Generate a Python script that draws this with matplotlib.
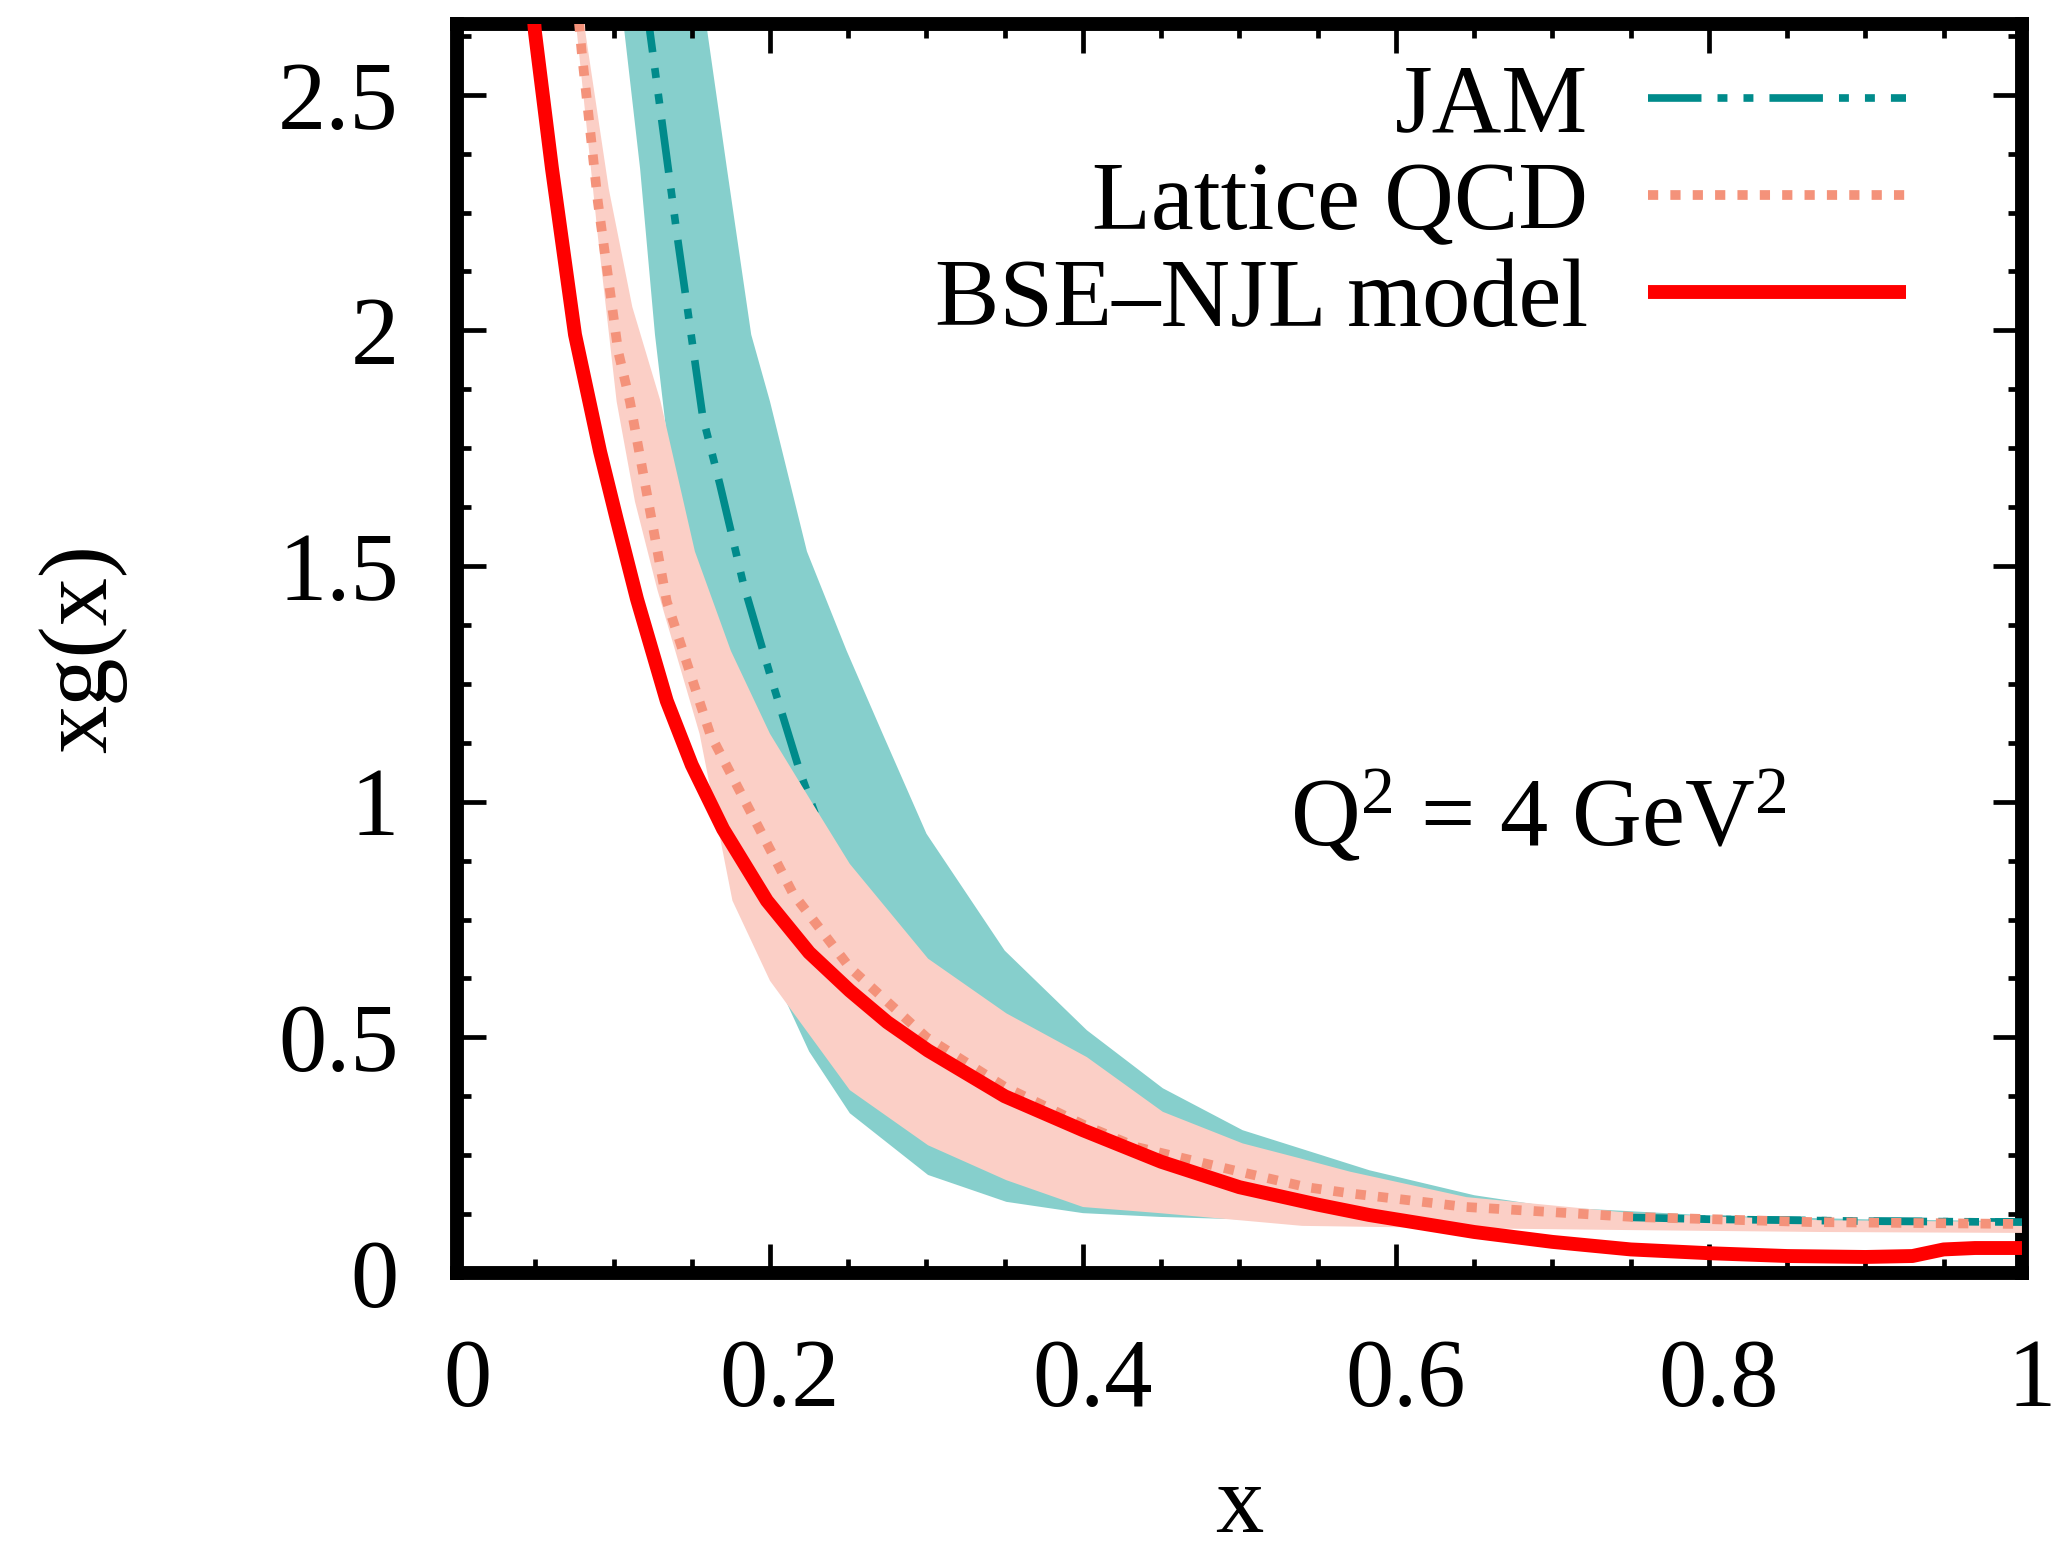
import matplotlib
matplotlib.use("Agg")
import matplotlib.pyplot as plt
from matplotlib.lines import Line2D
from matplotlib.ticker import MultipleLocator
from matplotlib.transforms import ScaledTranslation
import numpy as np

plt.rcParams['font.family'] = ['Liberation Serif', 'DejaVu Serif']
plt.rcParams['mathtext.fontset'] = 'custom'
plt.rcParams['mathtext.rm'] = 'Liberation Serif'
plt.rcParams['mathtext.it'] = 'Liberation Serif:italic'

#---------------------------------------------------------------------------#
# data
#---------------------------------------------------------------------------#

# JAM band (upper / lower edge) and central curve
jam_up_x = [0.150, 0.160, 0.1725, 0.188, 0.200, 0.2236, 0.249, 0.272, 0.300, 0.350,
            0.4025, 0.451, 0.502, 0.583, 0.650, 0.700, 0.800, 0.900, 1.000]
jam_up_y = [2.950, 2.633, 2.343, 1.991, 1.849, 1.531, 1.320, 1.144, 0.932, 0.684,
            0.515, 0.392, 0.303, 0.218, 0.165, 0.140, 0.122, 0.114, 0.110]

jam_lo_x = [0.100, 0.107, 0.117, 0.1265, 0.135, 0.145, 0.160, 0.180, 0.200, 0.225,
            0.251, 0.301, 0.351, 0.400, 0.449, 0.500, 0.600, 0.700, 0.800, 0.900, 1.000]
jam_lo_y = [2.950, 2.633, 2.343, 1.991, 1.750, 1.500, 1.200, 0.900, 0.650, 0.470,
            0.339, 0.208, 0.151, 0.127, 0.119, 0.114, 0.108, 0.105, 0.103, 0.102, 0.101]

jam_x = [0.118, 0.1233, 0.1406, 0.157, 0.168, 0.183, 0.200, 0.219, 0.250, 0.300,
         0.350, 0.400, 0.500, 0.600, 0.700, 0.750, 0.800, 0.900, 1.000]
jam_y = [2.900, 2.633, 2.203, 1.817, 1.673, 1.462, 1.270, 1.065, 0.780, 0.520,
         0.370, 0.280, 0.190, 0.145, 0.125, 0.118, 0.114, 0.110, 0.108]

# Lattice QCD band and central curve
lat_up_x = [0.078, 0.082, 0.097, 0.112, 0.130, 0.152, 0.175, 0.200, 0.230, 0.251,
            0.301, 0.351, 0.4025, 0.451, 0.502, 0.539, 0.5706, 0.645, 0.751, 0.871, 1.000]
lat_up_y = [2.900, 2.633, 2.300, 2.050, 1.850, 1.531, 1.320, 1.144, 0.981, 0.868,
            0.667, 0.551, 0.458, 0.342, 0.275, 0.243, 0.215, 0.161, 0.127, 0.112, 0.108]

lat_lo_x = [0.072, 0.0766, 0.090, 0.102, 0.1137, 0.128, 0.155, 0.176, 0.200, 0.251,
            0.301, 0.351, 0.400, 0.449, 0.500, 0.540, 0.645, 0.751, 0.871, 1.000]
lat_lo_y = [2.900, 2.633, 2.200, 1.849, 1.637, 1.450, 1.144, 0.790, 0.620, 0.388,
            0.271, 0.197, 0.140, 0.127, 0.112, 0.100, 0.095, 0.091, 0.087, 0.085]

lat_x = [0.076, 0.0797, 0.090, 0.103, 0.1105, 0.123, 0.134, 0.1617, 0.2147, 0.251,
         0.300, 0.350, 0.400, 0.4345, 0.500, 0.543, 0.5706, 0.645, 0.751, 0.866, 1.000]
lat_y = [2.720, 2.590, 2.273, 1.955, 1.849, 1.623, 1.425, 1.144, 0.805, 0.648,
         0.500, 0.395, 0.315, 0.267, 0.215, 0.182, 0.169, 0.140, 0.119, 0.108, 0.104]

# BSE-NJL model
bse_x = [0.046, 0.0498, 0.0607, 0.0754, 0.0914, 0.102, 0.115, 0.134, 0.150, 0.170,
         0.198, 0.225, 0.251, 0.275, 0.301, 0.350, 0.400, 0.450, 0.500, 0.550,
         0.583, 0.650, 0.700, 0.750, 0.800, 0.850, 0.900, 0.930, 0.950, 0.970, 1.000]
bse_y = [2.800, 2.633, 2.343, 1.991, 1.743, 1.600, 1.430, 1.214, 1.078, 0.942,
         0.790, 0.680, 0.599, 0.532, 0.472, 0.375, 0.303, 0.236, 0.182, 0.145,
         0.123, 0.087, 0.066, 0.050, 0.042, 0.036, 0.034, 0.036, 0.050, 0.053, 0.053]

labels = ["JAM", "Lattice QCD", "BSE\u2013NJL model"]
x_ticks = [0, 0.2, 0.4, 0.6, 0.8, 1]
x_ticklabels = ["0", "0.2", "0.4", "0.6", "0.8", "1"]
y_ticks = [0, 0.5, 1, 1.5, 2, 2.5]
y_ticklabels = ["0", "0.5", "1", "1.5", "2", "2.5"]

#---------------------------------------------------------------------------#
# styles
#---------------------------------------------------------------------------#

FS = 69.5
TEAL_BAND = "#86cfcc"
TEAL_LINE = "#008b8b"
PINK_BAND = "#fbcfc6"
SALMON = "#f4927a"
RED = "#ff0000"

jam_style = dict(color=TEAL_LINE, lw=5.5, dashes=(7, 2.1, 1.3, 2.1, 1.3, 2.1),
                 dash_capstyle="butt")
lat_style = dict(color=SALMON, lw=7.0, dashes=(1.05, 1.25), dash_capstyle="butt")
bse_style = dict(color=RED, lw=10.0, solid_capstyle="butt", solid_joinstyle="round")


def band(ax, xu, yu, xl, yl, **kw):
    px = np.r_[xu, xl[::-1]]
    py = np.r_[yu, yl[::-1]]
    ax.fill(px, py, lw=0, **kw)


fig = plt.figure(figsize=(20.54, 15.53), dpi=100)
ax = fig.add_axes([0.2225, 0.1803, 0.7619, 0.8042])

band(ax, jam_up_x, jam_up_y, jam_lo_x, jam_lo_y, color=TEAL_BAND, zorder=1)
ax.plot(jam_x, jam_y, zorder=2, **jam_style)
band(ax, lat_up_x, lat_up_y, lat_lo_x, lat_lo_y, color=PINK_BAND, zorder=3)

# tail of the JAM curve shows above the lattice band
jx, jy = np.array(jam_x), np.array(jam_y)
tail = jx >= 0.75
ax.plot(jx[tail], jy[tail], zorder=4, **jam_style)

ax.plot(lat_x, lat_y, zorder=5, **lat_style)
ax.plot(bse_x, bse_y, zorder=6, **bse_style)

ax.set_xlim(0, 1)
ax.set_ylim(0, 2.65)

ax.set_xticks(x_ticks)
ax.set_xticklabels(x_ticklabels)
ax.set_yticks(y_ticks)
ax.set_yticklabels(y_ticklabels)
ax.xaxis.set_minor_locator(MultipleLocator(0.05))
ax.yaxis.set_minor_locator(MultipleLocator(0.125))

ax.tick_params(which="both", direction="in", top=True, right=True,
               labelsize=FS, width=3.4)
ax.tick_params(axis="x", which="major", length=21, pad=47)
ax.tick_params(axis="y", which="major", length=21, pad=42)
ax.tick_params(which="minor", length=10)
for s in ax.spines.values():
    s.set_linewidth(10)

# x tick labels sit a little right of their ticks in the original
shift = ScaledTranslation(0.10, 0, fig.dpi_scale_trans)
for lab in ax.get_xticklabels():
    lab.set_transform(lab.get_transform() + shift)

ax.set_xlabel("x", fontsize=FS)
ax.set_ylabel("xg(x)", fontsize=FS)
ax.xaxis.set_label_coords(0.5, -0.153)
ax.yaxis.set_label_coords(-0.2105, 0.5)

ax.text(0.532, 0.907, r"Q$^{2}$ = 4 GeV$^{2}$", fontsize=FS, va="baseline")

handles = [Line2D([], [], **jam_style),
           Line2D([], [], **lat_style),
           Line2D([], [], **bse_style)]
ax.legend(handles, labels, loc="upper right", bbox_to_anchor=(0.9259, 0.968),
          frameon=False, markerfirst=False, fontsize=FS, handlelength=2.67,
          handletextpad=0.62, labelspacing=0.09, borderpad=0, borderaxespad=0)

fig.savefig("out.png", dpi=100)
